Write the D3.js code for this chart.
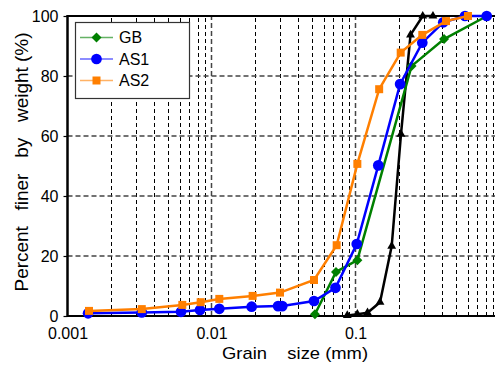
<!DOCTYPE html>
<html>
<head>
<meta charset="utf-8">
<script src="https://cdn.jsdelivr.net/npm/d3@7"></script>
<style>
  body { margin: 0; background: #fff; }
  text { font-family: "Liberation Sans", Arial, sans-serif; }
</style>
</head>
<body>
<svg id="chart" width="495" height="365"></svg>
<script>
// grain size distribution, sizes in mm, passing in %
const gbSize   = [0.0523, 0.0732, 0.103, 0.245, 0.412, 0.819];
const gbPass   = [0.6, 14.7, 18.6, 83.3, 92.3, 100];

const as1Size  = [0.00139, 0.00328, 0.00614, 0.00832, 0.01133, 0.019, 0.029, 0.031, 0.0515, 0.0726, 0.102, 0.144, 0.204, 0.291, 0.407, 0.576, 0.815];
const as1Pass  = [0.9, 1.2, 1.4, 2.0, 2.4, 3.1, 3.3, 3.3, 5.0, 9.4, 24, 50.2, 77.3, 91.1, 97.9, 100, 100];

const as2Size  = [0.00141, 0.00328, 0.00627, 0.00841, 0.01133, 0.0193, 0.0299, 0.0515, 0.074, 0.103, 0.146, 0.206, 0.291, 0.425, 0.604];
const as2Pass  = [1.7, 2.3, 3.7, 4.6, 5.7, 6.7, 7.8, 12, 23.6, 50.7, 75.6, 87.8, 93.7, 98.3, 100];

// unlabelled black series
const refSize  = [0.0877, 0.103, 0.1212, 0.148, 0.1784, 0.207, 0.241, 0.293, 0.345];
const refPass  = [0.2, 0.6, 1.1, 4.6, 23.3, 60.6, 93.7, 100, 100];

const xTicks = [0.001, 0.01, 0.1, 1];
const yTicks = [0, 20, 40, 60, 80, 100];
const legendNames = ["GB", "AS1", "AS2"];

const svg = d3.select("#chart");
const x = d3.scaleLog().domain([0.001, 1]).range([67.5, 499.5]);
const y = d3.scaleLinear().domain([0, 100]).range([316, 16]);

// grid
const grid = svg.append("g");
const minor = [];
[0.001, 0.01, 0.1].forEach(d => { for (let k = 2; k <= 9; k++) minor.push(d * k); });
grid.selectAll(".minor").data(minor).enter().append("line")
  .attr("x1", d => Math.round(x(d)) + 0.5).attr("x2", d => Math.round(x(d)) + 0.5)
  .attr("y1", y(0)).attr("y2", y(100))
  .attr("stroke", "#000").attr("stroke-width", 1).attr("stroke-dasharray", "4,3");
grid.selectAll(".major").data([0.01, 0.1]).enter().append("line")
  .attr("x1", d => x(d)).attr("x2", d => x(d))
  .attr("y1", y(0)).attr("y2", y(100))
  .attr("stroke", "#444").attr("stroke-width", 1.5).attr("stroke-dasharray", "5,3");
grid.selectAll(".hgrid").data([20, 40, 60, 80]).enter().append("line")
  .attr("x1", x(0.001)).attr("x2", 495)
  .attr("y1", d => y(d)).attr("y2", d => y(d))
  .attr("stroke", "#444").attr("stroke-width", 1.3).attr("stroke-dasharray", "5,3");

// axes
const xAxis = svg.append("g").attr("transform", `translate(0,${y(0)})`)
  .call(d3.axisBottom(x).tickValues(xTicks).tickFormat(d => String(d)).tickSize(0).tickPadding(12));
const yAxis = svg.append("g").attr("transform", `translate(${x(0.001)},0)`)
  .call(d3.axisLeft(y).tickValues(yTicks).tickSize(4).tickPadding(5));
[xAxis, yAxis].forEach(a => {
  a.select(".domain").remove();
  a.selectAll("text").attr("font-size", 16).attr("fill", "#000");
  a.selectAll("line").attr("stroke", "#000").attr("stroke-width", 1.2);
});

// frame
svg.append("line").attr("x1", x(0.001)).attr("x2", 495).attr("y1", y(0)).attr("y2", y(0))
  .attr("stroke", "#000").attr("stroke-width", 2.2);
svg.append("line").attr("x1", x(0.001)).attr("x2", 495).attr("y1", y(100)).attr("y2", y(100))
  .attr("stroke", "#000").attr("stroke-width", 2.2);
svg.append("line").attr("x1", x(0.001)).attr("x2", x(0.001)).attr("y1", y(0) + 1).attr("y2", y(100) - 1)
  .attr("stroke", "#000").attr("stroke-width", 2.5);

// series
const series = [
  { size: refSize, pass: refPass, color: "#000000", shape: d3.symbolTriangle, area: 34, rot: 0 },
  { size: gbSize,  pass: gbPass,  color: "#008000", shape: d3.symbolSquare,   area: 50, rot: 45 },
  { size: as1Size, pass: as1Pass, color: "#0000ff", shape: d3.symbolCircle,   area: 90, rot: 0 },
  { size: as2Size, pass: as2Pass, color: "#ff7f00", shape: d3.symbolSquare,   area: 64, rot: 0 }
];
const line = d3.line().x(d => x(d[0])).y(d => y(d[1]));
const plot = svg.append("g");
series.forEach(s => {
  const pts = s.size.map((v, i) => [v, s.pass[i]]);
  plot.append("path").datum(pts).attr("d", line)
    .attr("fill", "none").attr("stroke", s.color).attr("stroke-width", 2.5);
  plot.selectAll(null).data(pts).enter().append("path")
    .attr("d", d3.symbol().type(s.shape).size(s.area))
    .attr("transform", d => `translate(${x(d[0])},${y(d[1])}) rotate(${s.rot})`)
    .attr("fill", s.color);
});

// legend
const lg = svg.append("g");
lg.append("rect").attr("x", 75.5).attr("y", 22.5).attr("width", 114).attr("height", 76)
  .attr("fill", "#fff").attr("stroke", "#333").attr("stroke-width", 1.2);
const legendSeries = series.slice(1);
legendNames.forEach((name, i) => {
  const s = legendSeries[i];
  const cy = 37.5 + i * 21.5;
  lg.append("line").attr("x1", 80).attr("x2", 113).attr("y1", cy).attr("y2", cy)
    .attr("stroke", s.color).attr("stroke-width", 1.5).attr("opacity", 0.6);
  lg.append("path").attr("d", d3.symbol().type(s.shape).size(s.area))
    .attr("transform", `translate(96.5,${cy}) rotate(${s.rot})`).attr("fill", s.color);
  lg.append("text").attr("x", 119).attr("y", cy).attr("dy", "0.36em")
    .attr("font-size", 16).text(name);
});

// titles (non-breaking spaces keep the wide word gaps)
const nb = "\u00a0";
svg.append("text").attr("x", 222).attr("y", 359)
  .attr("font-size", 17).attr("textLength", 146).attr("lengthAdjust", "spacingAndGlyphs")
  .text("Grain" + nb.repeat(4) + "size (mm)");
svg.append("text").attr("transform", "translate(28,162) rotate(-90)").attr("text-anchor", "middle")
  .attr("font-size", 18).attr("textLength", 259).attr("lengthAdjust", "spacingAndGlyphs")
  .text(["Percent", "finer", "by", "weight (%)"].join(nb.repeat(3)));
</script>
</body>
</html>
